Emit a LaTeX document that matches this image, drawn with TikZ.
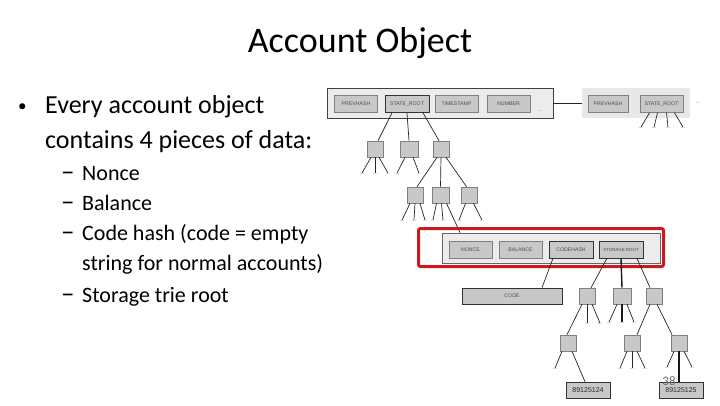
\documentclass[tikz,border=0pt]{standalone}
\usepackage{fontspec}
\setmainfont{Carlito}
\newfontfamily\smallsans{Liberation Sans}
\definecolor{boxfill}{RGB}{200,200,200}
\definecolor{boxedge}{RGB}{128,128,128}
\definecolor{blockfill}{RGB}{236,236,236}
\definecolor{blockfilltwo}{RGB}{232,232,232}
\definecolor{slidered}{RGB}{204,24,30}
\begin{document}
\begin{tikzpicture}[x=1pt,y=-1pt,
  tbox/.style={draw=boxedge, fill=boxfill, minimum width=16pt, minimum height=16pt, inner sep=0pt, line width=0.6pt},
  field/.style={draw=boxedge, fill=boxfill, minimum width=43pt, minimum height=17pt, inner sep=0pt,
    font=\smallsans\fontsize{5.2}{5.2}\selectfont, text=black!70, line width=0.6pt},
  keyfield/.style={field, draw=black!80},
  block/.style={draw=black!75, fill=blockfill, minimum height=30pt, inner sep=0pt, line width=0.7pt},
  leaf/.style={draw=black!80, fill=boxfill, minimum width=44pt, minimum height=16pt, inner sep=0pt,
    font=\smallsans\fontsize{7}{7}\selectfont, text=black!85, line width=0.7pt},
  dots/.style={inner sep=0.4pt, font=\smallsans\fontsize{5.5}{5.5}\selectfont, text=black!55},
  link/.style={draw=black!85, line width=0.7pt},
  trunk/.style={draw=black!90, line width=1.4pt},
  bul/.style={anchor=base west, inner sep=0pt, font=\fontsize{26}{30}\selectfont},
  sub/.style={anchor=base west, inner sep=0pt, font=\fontsize{22}{26}\selectfont},
  dashmark/.style={anchor=base west, inner sep=0pt, font=\fontsize{27}{26}\selectfont}
]
\useasboundingbox[fill=white] (0,0) rectangle (720,405);

% title and text
\node[anchor=base, inner sep=0pt, font=\fontsize{36}{40}\selectfont] (title) at (360,52) {Account Object};
\node[anchor=base west, inner sep=0pt, font=\fontsize{17}{20}\selectfont] (bm) at (18,111) {•};
\node[bul] (b1) at (45,113) {Every account object};
\node[bul] (b2) at (45,148) {contains 4 pieces of data:};
\node[dashmark] (m1) at (61,180) {–};
\node[sub] (s1t) at (82,180) {Nonce};
\node[dashmark] (m2) at (61,210) {–};
\node[sub] (s2t) at (82,210) {Balance};
\node[dashmark] (m3) at (61,240) {–};
\node[sub] (s3t) at (82,240) {Code hash (code = empty};
\node[sub] (s3u) at (82,270) {string for normal accounts)};
\node[dashmark] (m4) at (61,302) {–};
\node[sub] (s4t) at (82,302) {Storage trie root};

% block headers
\node[block, minimum width=226pt] (blk1) at (440,103) {};
\node[field] (ph1) at (356,104) {PREVHASH};
\node[keyfield, minimum width=44pt] (sr1) at (407,104) {STATE\_ROOT};
\node[field] (ts1) at (456.5,104) {TIMESTAMP};
\node[field] (num1) at (508.5,104) {NUMBER};
\node[dots] (bd1) at (540,111) {...};
\node[block, draw=none, fill=blockfilltwo, minimum width=108pt] (blk2) at (636,103) {};
\node[field, minimum width=40pt] (ph2) at (608,104) {PREVHASH};
\node[field] (sr2) at (661.5,104) {STATE\_ROOT};
\node[dots] (bd2) at (698,103) {...};
\draw[link] (blk1.east) -- (blk2.west);

% state root 2 children
\node[dots] (e1) at (641,128) {...};
\node[dots] (e2) at (654,128) {...};
\node[dots] (e3) at (668,128) {...};
\node[dots] (e4) at (683,128) {...};
\draw[link] ([xshift=-12pt]sr2.south) -- (e1.north);
\draw[link] ([xshift=-4pt]sr2.south) -- (e2.north);
\draw[link] ([xshift=5pt]sr2.south) -- (e3.north);
\draw[link] ([xshift=13pt]sr2.south) -- (e4.north);

% state trie
\node[tbox] (t1) at (375,149) {};
\node[tbox, minimum width=18pt] (t2) at (409,149) {};
\node[tbox] (t3) at (441,149) {};
\draw[link] ([xshift=-15pt]sr1.south) -- ([xshift=3pt]t1.north);
\draw[link] (sr1.south) -- (t2.north);
\draw[link] ([xshift=16pt]sr1.south) -- ([xshift=-2pt]t3.north);

\node[dots] (d11) at (362,174) {...};
\node[dots] (d12) at (375,174) {...};
\node[dots] (d13) at (388,174) {...};
\draw[link] ([xshift=-4pt]t1.south) -- (d11.north);
\draw[link] (t1.south) -- (d12.north);
\draw[link] ([xshift=4pt]t1.south) -- (d13.north);
\node[dots] (d21) at (397,174) {...};
\node[dots] (d22) at (419,174) {...};
\draw[link] ([xshift=-4pt]t2.south) -- (d21.north);
\draw[link] ([xshift=4pt]t2.south) -- (d22.north);

\node[tbox] (u1) at (415,195) {};
\node[tbox, minimum width=17pt] (u2) at (440.5,195) {};
\node[tbox] (u3) at (469.5,195) {};
\draw[link] ([xshift=-4pt]t3.south) -- ([xshift=2pt]u1.north);
\draw[link] (t3.south) -- (u2.north);
\draw[link] ([xshift=5pt]t3.south) -- ([xshift=-3pt]u3.north);

\node[dots] (f11) at (402,221) {...};
\node[dots] (f12) at (414,221) {...};
\node[dots] (f13) at (425,221) {...};
\draw[link] ([xshift=-5pt]u1.south) -- (f11.north);
\draw[link] (u1.south) -- (f12.north);
\draw[link] ([xshift=5pt]u1.south) -- (f13.north);
\node[dots] (f21) at (433,221) {...};
\node[dots] (f22) at (443,221) {...};
\draw[link] ([xshift=-4pt]u2.south) -- (f21.north);
\draw[link] ([xshift=1pt]u2.south) -- (f22.north);
\node[dots] (f31) at (459,221) {...};
\node[dots] (f32) at (482,221) {...};
\draw[link] ([xshift=-4pt]u3.south) -- (f31.north);
\draw[link] ([xshift=4pt]u3.south) -- (f32.north);

% account object
\node[block, draw=black!60, minimum width=218pt] (acct) at (551,248) {};
\draw[link] ([xshift=6pt]u2.south) -- ([xshift=-91pt]acct.north);
\node[field] (nonce) at (470.5,249.5) {NONCE};
\node[field] (bal) at (520.5,249.5) {BALANCE};
\node[keyfield, minimum width=44pt] (ch) at (571,249.5) {CODEHASH};
\node[keyfield, minimum width=44pt, font=\smallsans\fontsize{4.4}{4.4}\selectfont] (sroot) at (621,249.5) {STORAGE ROOT};
\node[draw=slidered, line width=3pt, rounded corners=2pt, minimum width=245pt, minimum height=38pt, inner sep=0pt] (hl) at (541,247.5) {};

% code
\node[leaf, minimum width=100pt, font=\smallsans\fontsize{5.2}{5.2}\selectfont, text=black!70] (code) at (512,296) {CODE};
\draw[link] ([xshift=-18pt]ch.south) -- ([xshift=30pt]code.north);

% storage trie
\node[tbox] (s1) at (587,296) {};
\node[tbox, minimum width=18pt] (s2) at (622,296) {};
\node[tbox] (s3) at (654,296) {};
\draw[link] ([xshift=-14pt]sroot.south) -- ([xshift=4pt]s1.north);
\draw[trunk] (sroot.south) -- (s2.north);
\draw[link] ([xshift=16pt]sroot.south) -- ([xshift=-4pt]s3.north);

\node[dots] (g11) at (587,324) {...};
\node[dots] (g12) at (600,324) {...};
\draw[link] (s1.south) -- (g11.north);
\draw[link] ([xshift=5pt]s1.south) -- (g12.north);
\node[dots] (g21) at (609,323) {...};
\node[dots] (g22) at (622,323) {...};
\node[dots] (g23) at (634,323) {...};
\draw[link] ([xshift=-5pt]s2.south) -- (g21.north);
\draw[trunk] (s2.south) -- (g22.north);
\draw[link] ([xshift=5pt]s2.south) -- (g23.north);

\node[tbox] (s1a) at (568,343) {};
\node[tbox] (s3a) at (632,343) {};
\node[tbox] (s3b) at (679,343) {};
\draw[link] ([xshift=-5pt]s1.south) -- ([xshift=-1pt]s1a.north);
\draw[link] ([xshift=-4pt]s3.south) -- ([xshift=5pt]s3a.north);
\draw[link] ([xshift=3pt]s3.south) -- ([xshift=-7pt]s3b.north);

\node[dots] (h11) at (555,369) {...};
\draw[link] ([xshift=-6pt]s1a.south) -- (h11.north);
\node[dots] (h31) at (620,369) {...};
\node[dots] (h32) at (632,369) {...};
\node[dots] (h33) at (645,369) {...};
\draw[link] ([xshift=-5pt]s3a.south) -- (h31.north);
\draw[link] (s3a.south) -- (h32.north);
\draw[link] ([xshift=5pt]s3a.south) -- (h33.north);
\node[dots] (h41) at (667,368) {...};
\node[dots] (h42) at (692,368) {...};
\draw[link] ([xshift=-5pt]s3b.south) -- (h41.north);
\draw[link] ([xshift=5pt]s3b.south) -- (h42.north);

\node[leaf] (l1) at (588,390) {89125124};
\node[leaf] (l2) at (681,390) {89125125};
\draw[link] ([xshift=4pt]s1a.south) -- ([xshift=-3pt]l1.north);
\draw[trunk] (s3b.south) -- ([xshift=-2pt]l2.north);

% page number
\node[font=\fontsize{13}{13}\selectfont, text=black!55, inner sep=0pt] (pg) at (669,381) {38};
\end{tikzpicture}
\end{document}
